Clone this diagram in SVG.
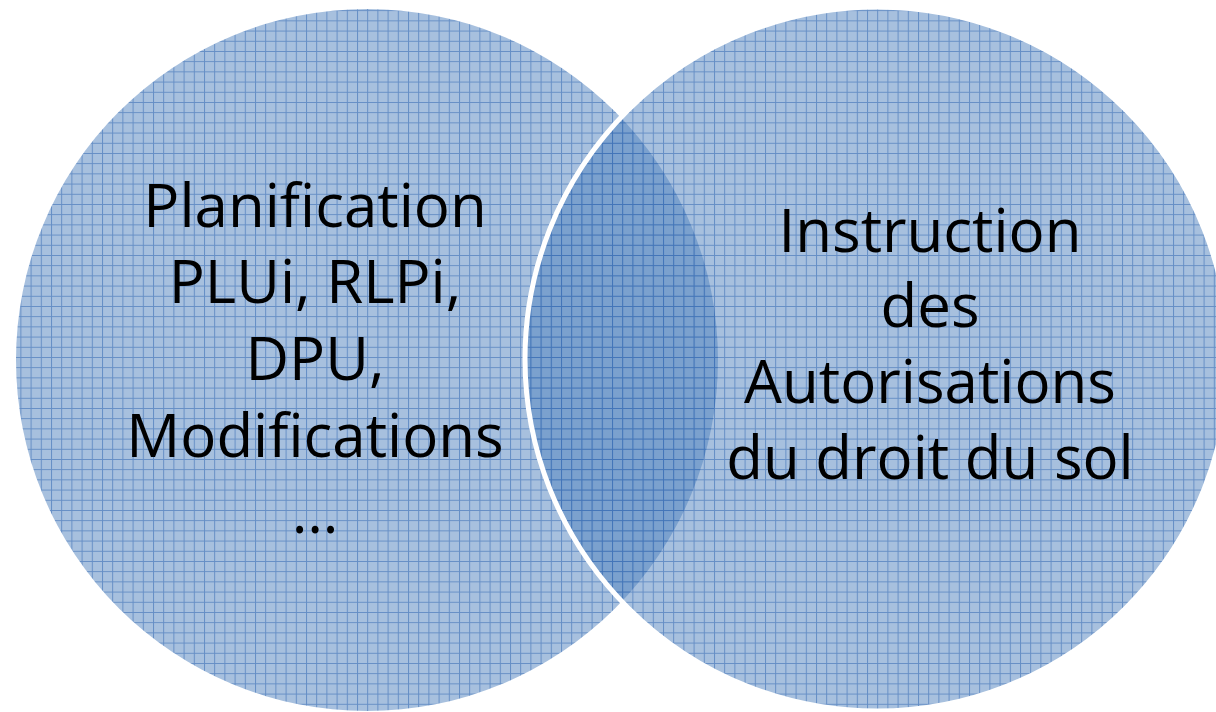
<svg xmlns="http://www.w3.org/2000/svg" width="1216" height="712" viewBox="0 0 1216 712">
  <style>
    .lbl { font-family: "Open Sans", "Liberation Sans", sans-serif; font-size: 60px; fill: #000; text-anchor: middle; }
    .venn { fill: url(#grid); }
  </style>
  <defs>
    <pattern id="grid" patternUnits="userSpaceOnUse" x="0" y="0" width="10.2" height="10.2">
      <rect width="10.2" height="10.2" fill="#4f81bd" fill-opacity="0.5"/>
      <path d="M0.5 0V10.2M0 0.5H10.2" stroke="#2f66b0" stroke-opacity="0.55" stroke-width="1" fill="none"/>
    </pattern>
  </defs>
  <rect width="1216" height="712" fill="#ffffff"/>
  <g id="node-planification">
    <circle class="venn" cx="367" cy="360" r="351"/>
  </g>
  <g id="node-instruction">
    <circle class="venn" cx="877" cy="359" r="352" stroke="#ffffff" stroke-width="5"/>
  </g>
  <g id="connectors"/>
  <g id="labels">
    <text class="lbl" x="315" y="227">Planification</text>
    <text class="lbl" x="315" y="303">PLUi, RLPi,</text>
    <text class="lbl" x="315" y="380">DPU,</text>
    <text class="lbl" x="315" y="457">Modifications</text>
    <text class="lbl" x="315" y="533">…</text>
    <text class="lbl" x="930" y="252">Instruction</text>
    <text class="lbl" x="930" y="327">des</text>
    <text class="lbl" x="930" y="403">Autorisations</text>
    <text class="lbl" x="930" y="479">du droit du sol</text>
  </g>
</svg>
